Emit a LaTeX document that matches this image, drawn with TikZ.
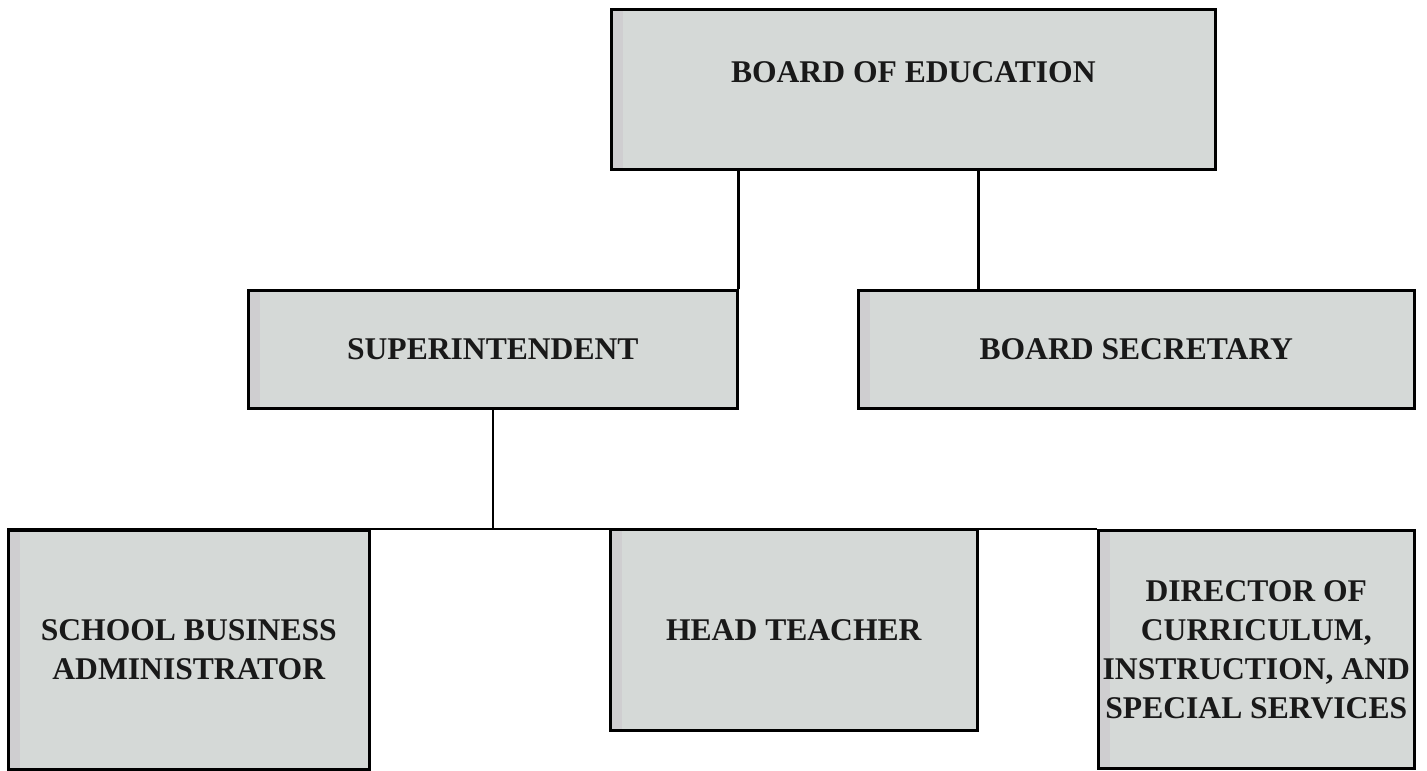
\documentclass[tikz,border=0pt]{standalone}
\usepackage{fontspec}
\setmainfont{Liberation Serif}
\definecolor{boxgray}{RGB}{213,217,215}
\definecolor{stripgray}{RGB}{207,206,208}
\definecolor{inkblack}{RGB}{25,25,25}
\begin{document}
\begin{tikzpicture}[x=0.5pt,y=-0.5pt,
  box/.style={draw=black, line width=1.3pt, fill=boxgray, anchor=north west,
    inner sep=0pt, align=center, text=inkblack,
    font=\bfseries\fontsize{15.8}{19.5}\selectfont,
    path picture={\fill[stripgray] (path picture bounding box.north west) rectangle ([xshift=6pt]path picture bounding box.south west);}},
  link/.style={draw=black, line width=1.3pt}]
\useasboundingbox (0,0) rectangle (1427,770);

\node[box, minimum width=302pt, minimum height=80pt, text depth=17pt] (boe) at (610,8) {BOARD OF EDUCATION};
\node[box, minimum width=244.5pt, minimum height=59pt] (sup) at (247,289) {SUPERINTENDENT};
\node[box, minimum width=278pt, minimum height=59pt] (sec) at (857,289) {BOARD SECRETARY};
\node[box, minimum width=180.5pt, minimum height=119.5pt] (sba) at (7,529) {SCHOOL BUSINESS\\ADMINISTRATOR};
\node[box, minimum width=183.5pt, minimum height=100.5pt] (head) at (609,528) {HEAD TEACHER};
\node[box, minimum width=158pt, minimum height=119pt] (dir) at (1097,529) {DIRECTOR OF\\CURRICULUM,\\INSTRUCTION, AND\\SPECIAL SERVICES};

\draw[link] (boe.south -| sup.north east) -- (sup.north east);
\draw[link] (boe.south -| head.north east) -- (sec.north -| head.north east);
\draw[link] (sup.south) -- (sup.south |- head.north);
\draw[link] (sba.north west) -- (dir.north west);
\end{tikzpicture}
\end{document}
